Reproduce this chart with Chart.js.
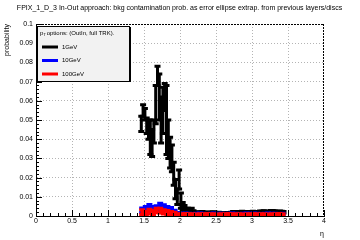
<!DOCTYPE html>
<html>
<head>
<meta charset="utf-8">
<script src="https://cdn.jsdelivr.net/npm/chart.js@4.4.0/dist/chart.umd.min.js"></script>
<style>
  html, body { margin: 0; padding: 0; background: #fff; }
  #wrap { position: relative; width: 360px; height: 240px; }
</style>
</head>
<body>
<div id="wrap"><canvas id="c" width="360" height="240"></canvas></div>
<script>
// Texts
const chartTitle = 'FPIX_1_D_3 In-Out approach: bkg contamination prob. as error ellipse extrap. from previous layers/discs';
const legendHeader = ' options: (OutIn, full TRK).';
const seriesNames = ['1GeV', '10GeV', '100GeV'];
const seriesColors = ['#000000', '#0000ff', '#ff0000'];
const xTitle = 'η';
const yTitle = 'probability';

// Axis ranges / tick labels
const xTicks = [0, 0.5, 1, 1.5, 2, 2.5, 3, 3.5, 4];
const yTicks = [0, 0.01, 0.02, 0.03, 0.04, 0.05, 0.06, 0.07, 0.08, 0.09, 0.1];

// 1GeV: bins of 0.025 in eta starting at 1.45
const etaStart = 1.45;
const binWidth1GeV = 0.025;
const prob1GeV = [
  0.048, 0.055, 0.053, 0.047, 0.045, 0.041, 0.038, 0.044, 0.058, 0.073,
  0.062, 0.050, 0.055, 0.062, 0.050, 0.040, 0.033, 0.030, 0.022, 0.014,
  0.010, 0.019, 0.008, 0.005, 0.004, 0.003, 0.003, 0.0025, 0.003, 0.002,
  0.0016, 0.0018, 0.0015, 0.0017, 0.0019, 0.0016, 0.0014, 0.0017, 0.0016, 0.0015,
  0.0018, 0.0016, 0.0014, 0.0015, 0.0013, 0.0014, 0.0012, 0.0013, 0.0015, 0.0014,
  0.0016, 0.0019, 0.0018, 0.0020, 0.0019, 0.0018, 0.0021, 0.0019, 0.0020, 0.0018,
  0.0019, 0.0020, 0.0021, 0.0019, 0.0018, 0.0020, 0.0022, 0.0021, 0.0023, 0.0022,
  0.0020, 0.0021, 0.0024, 0.0025, 0.0023, 0.0021, 0.0020, 0.0022, 0.0021, 0.0019
];
const err1GeV = [
  0.004, 0.003, 0.003, 0.004, 0.005, 0.009, 0.007, 0.006, 0.010, 0.005,
  0.012, 0.012, 0.012, 0.007, 0.018, 0.010, 0.008, 0.007, 0.006, 0.005,
  0.004, 0.005, 0.004, 0.002, 0.0015, 0.001, 0.001, 0.0008, 0.001, 0.0007,
  0.0004, 0.0004, 0.0004, 0.0004, 0.0004, 0.0004, 0.0004, 0.0004, 0.0004, 0.0004,
  0.0004, 0.0004, 0.0004, 0.0004, 0.0003, 0.0003, 0.0003, 0.0003, 0.0003, 0.0003,
  0.0003, 0.0004, 0.0004, 0.0004, 0.0004, 0.0004, 0.0004, 0.0004, 0.0004, 0.0004,
  0.0004, 0.0004, 0.0004, 0.0004, 0.0004, 0.0004, 0.0004, 0.0004, 0.0004, 0.0004,
  0.0004, 0.0004, 0.0004, 0.0004, 0.0004, 0.0004, 0.0004, 0.0004, 0.0004, 0.0004
];

// 10GeV and 100GeV: bins of 0.05 in eta starting at 1.45
const binWidthHigh = 0.05;
const prob10GeV = [
  0.0030, 0.0038, 0.0048, 0.0038, 0.0041, 0.0054, 0.0046, 0.0038, 0.0032, 0.0022,
  0.0014, 0.0011, 0.0012, 0.0011, 0.0010, 0.0011, 0.0012, 0.0011, 0.0010, 0.0011,
  0.0012, 0.0011, 0.0011, 0.0010, 0.0011, 0.0012, 0.0011, 0.0010, 0.0011, 0.0012,
  0.0011, 0.0012, 0.0011, 0.0010, 0.0011, 0.0012, 0.0011, 0.0011, 0.0010, 0.0011
];
const err10GeV = [
  0.0012, 0.0012, 0.0012, 0.0012, 0.0012, 0.0012, 0.0012, 0.0012, 0.0012, 0.0008,
  0.0004, 0.0003, 0.0003, 0.0003, 0.0003, 0.0003, 0.0003, 0.0003, 0.0003, 0.0003,
  0.0003, 0.0003, 0.0003, 0.0003, 0.0003, 0.0003, 0.0003, 0.0003, 0.0003, 0.0003,
  0.0003, 0.0003, 0.0003, 0.0003, 0.0003, 0.0003, 0.0003, 0.0003, 0.0003, 0.0003
];
const prob100GeV = [
  0.0020, 0.0013, 0.0023, 0.0018, 0.0029, 0.0028, 0.0021, 0.0018, 0.0014, 0.0013,
  0.0009, 0.0009, 0.0010, 0.0009, 0.0009, 0.0008, 0.0009, 0.0009, 0.0010, 0.0009,
  0.0009, 0.0008, 0.0009, 0.0009, 0.0010, 0.0009, 0.0009, 0.0009, 0.0008, 0.0009,
  0.0009, 0.0010, 0.0009, 0.0009, 0.0009, 0.0008, 0.0009, 0.0009, 0.0010, 0.0009
];
const err100GeV = [
  0.0012, 0.0010, 0.0012, 0.0011, 0.0012, 0.0012, 0.0011, 0.0011, 0.0009, 0.0007,
  0.0003, 0.0003, 0.0003, 0.0003, 0.0003, 0.0003, 0.0003, 0.0003, 0.0003, 0.0003,
  0.0003, 0.0003, 0.0003, 0.0003, 0.0003, 0.0003, 0.0003, 0.0003, 0.0003, 0.0003,
  0.0003, 0.0003, 0.0003, 0.0003, 0.0003, 0.0003, 0.0003, 0.0003, 0.0003, 0.0003
];

const FONT = '"Liberation Sans", Arial, sans-serif';

function toPoints(values, width) {
  return values.map((v, i) => ({ x: etaStart + (i + 0.5) * width, y: v }));
}

// error bars drawn as thick lines (ROOT "E1" style with end caps)
const errorBars = {
  id: 'errorBars',
  afterDatasetsDraw(chart) {
    const { ctx, chartArea: a, scales: { x, y } } = chart;
    ctx.save();
    ctx.beginPath();
    ctx.rect(a.left, a.top, a.right - a.left, a.bottom - a.top);
    ctx.clip();
    ctx.lineWidth = 3;
    chart.data.datasets.forEach(ds => {
      ctx.strokeStyle = ds.borderColor;
      ds.data.forEach((p, i) => {
        const e = ds.errors[i];
        const px = x.getPixelForValue(p.x);
        const xl = x.getPixelForValue(p.x - ds.binWidth / 2);
        const xr = x.getPixelForValue(p.x + ds.binWidth / 2);
        const py = y.getPixelForValue(p.y);
        const lo = y.getPixelForValue(p.y - e);
        const hi = y.getPixelForValue(p.y + e);
        ctx.beginPath();
        ctx.moveTo(px, lo); ctx.lineTo(px, hi);
        ctx.moveTo(xl, py); ctx.lineTo(xr, py);
        ctx.moveTo(px - 3, lo); ctx.lineTo(px + 3, lo);
        ctx.moveTo(px - 3, hi); ctx.lineTo(px + 3, hi);
        ctx.stroke();
      });
    });
    ctx.restore();
  }
};

// title, dashed frame, inward ticks, legend box
const decorations = {
  id: 'decorations',
  afterDraw(chart) {
    const { ctx, chartArea: a, scales: { x, y } } = chart;
    ctx.save();

    ctx.fillStyle = '#000';
    ctx.font = '7px ' + FONT;
    ctx.textAlign = 'center';
    ctx.textBaseline = 'middle';
    ctx.fillText(chartTitle, 179.5, 8);

    ctx.strokeStyle = '#000';
    ctx.lineWidth = 1;
    ctx.setLineDash([2, 1]);
    ctx.beginPath();
    ctx.moveTo(a.left, a.top + 0.5); ctx.lineTo(a.right, a.top + 0.5);
    ctx.moveTo(a.right - 0.5, a.top); ctx.lineTo(a.right - 0.5, a.bottom);
    ctx.stroke();
    ctx.setLineDash([]);

    ctx.beginPath();
    for (let k = 0; k <= 40; k++) {
      const px = Math.round(x.getPixelForValue(k / 10)) + 0.5;
      const len = k % 5 === 0 ? 6 : 3;
      ctx.moveTo(px, a.bottom); ctx.lineTo(px, a.bottom - len);
    }
    for (let k = 0; k <= 50; k++) {
      const py = Math.round(y.getPixelForValue(k * 0.002)) + 0.5;
      const len = k % 5 === 0 ? 6 : 3;
      ctx.moveTo(a.left, py); ctx.lineTo(a.left + len, py);
    }
    ctx.stroke();

    // legend
    ctx.fillStyle = '#f2f2f2';
    ctx.fillRect(37, 26, 93, 56);
    ctx.strokeRect(37.5, 26.5, 92, 55);
    ctx.beginPath();
    ctx.moveTo(130.5, 27); ctx.lineTo(130.5, 82);
    ctx.stroke();

    ctx.fillStyle = '#000';
    ctx.textAlign = 'left';
    ctx.font = '6px ' + FONT;
    ctx.fillText('p', 40, 33);
    ctx.font = '4px ' + FONT;
    ctx.fillText('T', 43.5, 35);
    ctx.font = '6px ' + FONT;
    ctx.fillText(legendHeader, 45, 33);

    const rows = [47, 60.5, 74];
    seriesNames.forEach((name, i) => {
      ctx.strokeStyle = seriesColors[i];
      ctx.lineWidth = 3;
      ctx.beginPath();
      ctx.moveTo(42, rows[i]); ctx.lineTo(58, rows[i]);
      ctx.stroke();
      ctx.fillText(name, 62, rows[i]);
    });

    ctx.restore();
  }
};

const gridColor = (ctx, ends) =>
  ends.includes(ctx.tick.value) ? 'rgba(0,0,0,0)' : '#b4b4b4';

new Chart(document.getElementById('c'), {
  type: 'scatter',
  data: {
    datasets: [
      { label: seriesNames[0], data: toPoints(prob1GeV, binWidth1GeV), errors: err1GeV, binWidth: binWidth1GeV, borderColor: seriesColors[0] },
      { label: seriesNames[1], data: toPoints(prob10GeV, binWidthHigh), errors: err10GeV, binWidth: binWidthHigh, borderColor: seriesColors[1] },
      { label: seriesNames[2], data: toPoints(prob100GeV, binWidthHigh), errors: err100GeV, binWidth: binWidthHigh, borderColor: seriesColors[2] }
    ]
  },
  options: {
    responsive: false,
    animation: false,
    events: [],
    layout: { padding: { top: 24, right: 36, left: 0, bottom: 0 } },
    elements: { point: { radius: 0, hoverRadius: 0 } },
    plugins: { legend: { display: false }, title: { display: false }, tooltip: { enabled: false } },
    scales: {
      x: {
        type: 'linear',
        min: xTicks[0],
        max: xTicks[xTicks.length - 1],
        afterBuildTicks: s => { s.ticks = xTicks.map(v => ({ value: v })); },
        afterFit: s => { s.height = 24; },
        ticks: { autoSkip: false, maxRotation: 0, padding: 1, color: '#000', font: { family: FONT, size: 7 }, callback: v => String(v) },
        grid: { drawTicks: false, color: c => gridColor(c, [0, 4]) },
        border: { display: true, color: '#000', width: 1, dash: [1, 2] },
        title: { display: true, text: xTitle, align: 'end', color: '#000', font: { family: FONT, size: 7 }, padding: { top: 0, bottom: 2 } }
      },
      y: {
        type: 'linear',
        min: yTicks[0],
        max: yTicks[yTicks.length - 1],
        afterBuildTicks: s => { s.ticks = yTicks.map(v => ({ value: v })); },
        afterFit: s => { s.width = 36; },
        ticks: { padding: 3, color: '#000', font: { family: FONT, size: 7 }, callback: v => String(+v.toFixed(2)) },
        grid: { drawTicks: false, color: c => gridColor(c, [0, 0.1]) },
        border: { display: true, color: '#000', width: 1, dash: [1, 2] },
        title: { display: true, text: yTitle, align: 'end', color: '#000', font: { family: FONT, size: 7 }, padding: { top: 3, bottom: 0 } }
      }
    }
  },
  plugins: [errorBars, decorations]
});
</script>
</body>
</html>
